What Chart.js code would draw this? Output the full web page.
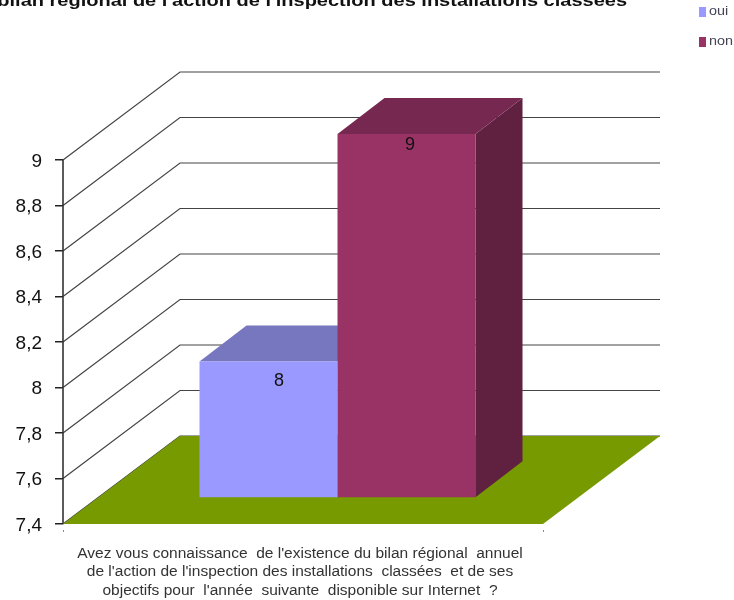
<!DOCTYPE html>
<html lang="fr">
<head>
    <meta charset="UTF-8">
    <title>Bilan régional</title>
    <script src="https://cdn.jsdelivr.net/npm/chart.js"></script>
    <style>
        html, body { margin: 0; padding: 0; background: #fff; overflow: hidden; }
        canvas { display: block; filter: blur(0.6px); }
    </style>
</head>
<body>
    <canvas id="bilanChart" width="734" height="600"></canvas>

    <script>
        const titleText = "bilan régional de l'action de l'inspection des installations classées";
        const questionLines = [
            "Avez vous connaissance  de l'existence du bilan régional  annuel",
            "de l'action de l'inspection des installations  classées  et de ses",
            "objectifs pour  l'année  suivante  disponible sur Internet  ?"
        ];
        const seriesNames = ['oui', 'non'];
        const ouiValues = [8];
        const nonValues = [9];
        const axisMin = 7.4;
        const axisMax = 9;
        const axisStep = 0.2;

        const frontColors = ['#9999ff', '#993366'];
        const topColors = ['#7777bf', '#772850'];
        const sideColors = ['#5f5f9f', '#60203f'];

        // depth of the fake 3D box
        const wallDx = 117, wallDy = -88;
        const barDx = 34.5, barDy = -26;
        const depthDx = 47, depthDy = -36;

        function poly(ctx, pts, color) {
            ctx.fillStyle = color;
            ctx.beginPath();
            pts.forEach((p, i) => i ? ctx.lineTo(p[0], p[1]) : ctx.moveTo(p[0], p[1]));
            ctx.closePath();
            ctx.fill();
        }

        // the source picture was stretched sideways, so text is too
        function wideText(ctx, text, x, y, stretch) {
            ctx.save();
            ctx.translate(x, y);
            ctx.scale(stretch, 1);
            ctx.fillText(text, 0, 0);
            ctx.restore();
        }

        const box3d = {
            id: 'box3d',
            beforeDatasetsDraw(chart) {
                const ctx = chart.ctx;
                const area = chart.chartArea;
                const yScale = chart.scales.y;

                // walls: gridlines run back from the axis, then along the back
                ctx.save();
                ctx.strokeStyle = '#444';
                ctx.lineWidth = 1.2;
                yScale.ticks.forEach(t => {
                    const y = yScale.getPixelForValue(t.value);
                    ctx.beginPath();
                    ctx.moveTo(area.left, y);
                    ctx.lineTo(area.left + wallDx, y + wallDy);
                    ctx.lineTo(area.right + wallDx, y + wallDy);
                    ctx.stroke();
                });
                ctx.beginPath();
                ctx.moveTo(area.left, area.top);
                ctx.lineTo(area.left, area.bottom);
                ctx.strokeStyle = '#333';
                ctx.lineWidth = 1.6;
                ctx.stroke();

                // floor
                poly(ctx, [
                    [area.left, area.bottom],
                    [area.left + wallDx, area.bottom + wallDy],
                    [area.right + wallDx, area.bottom + wallDy],
                    [area.right, area.bottom]
                ], '#769a00');

                // top and side of each bar, the front comes from the library
                chart.data.datasets.forEach((ds, i) => {
                    const bar = chart.getDatasetMeta(i).data[0];
                    const l = bar.x - bar.width / 2 + barDx;
                    const r = bar.x + bar.width / 2 + barDx;
                    const t = bar.y + barDy;
                    const b = bar.base + barDy;
                    poly(ctx, [[r, t], [r + depthDx, t + depthDy], [r + depthDx, b + depthDy], [r, b]], sideColors[i]);
                    poly(ctx, [[l, t], [l + depthDx, t + depthDy], [r + depthDx, t + depthDy], [r, t]], topColors[i]);
                });
                ctx.restore();

                // library bars are drawn in the plane of the bar fronts
                ctx.save();
                ctx.translate(barDx, barDy);
            },
            afterDatasetsDraw(chart) {
                const ctx = chart.ctx;
                ctx.restore();

                // value labels
                const labelShift = [[10.5, 19.5], [3.5, 11]];
                ctx.save();
                ctx.fillStyle = '#111';
                ctx.font = '18px "Liberation Sans"';
                ctx.textAlign = 'center';
                ctx.textBaseline = 'middle';
                chart.data.datasets.forEach((ds, i) => {
                    const bar = chart.getDatasetMeta(i).data[0];
                    ctx.fillText(String(ds.data[0]), bar.x + barDx + labelShift[i][0], bar.y + barDy + labelShift[i][1]);
                });
                ctx.restore();

                // title, cut by the top and left of the picture as in the source
                ctx.save();
                ctx.fillStyle = '#111';
                ctx.font = 'bold 16px "Liberation Sans"';
                ctx.textAlign = 'right';
                ctx.textBaseline = 'alphabetic';
                wideText(ctx, titleText, 627, 6, 1.25);
                ctx.restore();

                // legend
                ctx.save();
                ctx.font = '12px "Liberation Sans"';
                ctx.textAlign = 'left';
                ctx.textBaseline = 'middle';
                chart.data.datasets.forEach((ds, i) => {
                    const y = 12 + i * 30;
                    ctx.fillStyle = frontColors[i];
                    ctx.fillRect(699, y - 5, 7, 10);
                    ctx.fillStyle = '#445';
                    wideText(ctx, ds.label, 709, y, 1.2);
                });
                ctx.restore();
            }
        };

        new Chart(document.getElementById('bilanChart'), {
            type: 'bar',
            data: {
                labels: [questionLines],
                datasets: [
                    { label: seriesNames[0], data: ouiValues, backgroundColor: frontColors[0], clip: false, base: axisMin },
                    { label: seriesNames[1], data: nonValues, backgroundColor: frontColors[1], clip: false, base: axisMin }
                ]
            },
            options: {
                responsive: false,
                animation: false,
                layout: { padding: { top: 160, right: 191, left: 0, bottom: 0 } },
                plugins: {
                    legend: { display: false },
                    title: { display: false },
                    tooltip: { enabled: false }
                },
                datasets: { bar: { barPercentage: 1, categoryPercentage: 0.575 } },
                scales: {
                    x: {
                        afterFit(scale) { scale.height = 76; },
                        border: { display: false },
                        // only a small dot under each end of the floor
                        grid: {
                            drawOnChartArea: false,
                            drawTicks: true,
                            tickLength: 8,
                            tickBorderDash: [2, 20],
                            tickBorderDashOffset: 16,
                            color: '#888'
                        },
                        ticks: {
                            maxRotation: 0,
                            padding: 12,
                            labelOffset: -3,
                            color: '#333',
                            font: { family: '"Liberation Sans"', size: 15.5, lineHeight: 1.2 }
                        }
                    },
                    y: {
                        min: axisMin,
                        max: axisMax,
                        afterFit(scale) { scale.width = 63; },
                        border: { display: false },
                        grid: { drawOnChartArea: false, drawTicks: true, tickLength: 8, lineWidth: 1.5, color: '#222' },
                        ticks: {
                            stepSize: axisStep,
                            padding: 13,
                            labelOffset: 1.5,
                            color: '#111',
                            font: { family: '"Liberation Sans"', size: 19 },
                            callback: v => String(Math.round(v * 10) / 10).replace('.', ',')
                        }
                    }
                }
            },
            plugins: [box3d]
        });
    </script>
</body>
</html>
